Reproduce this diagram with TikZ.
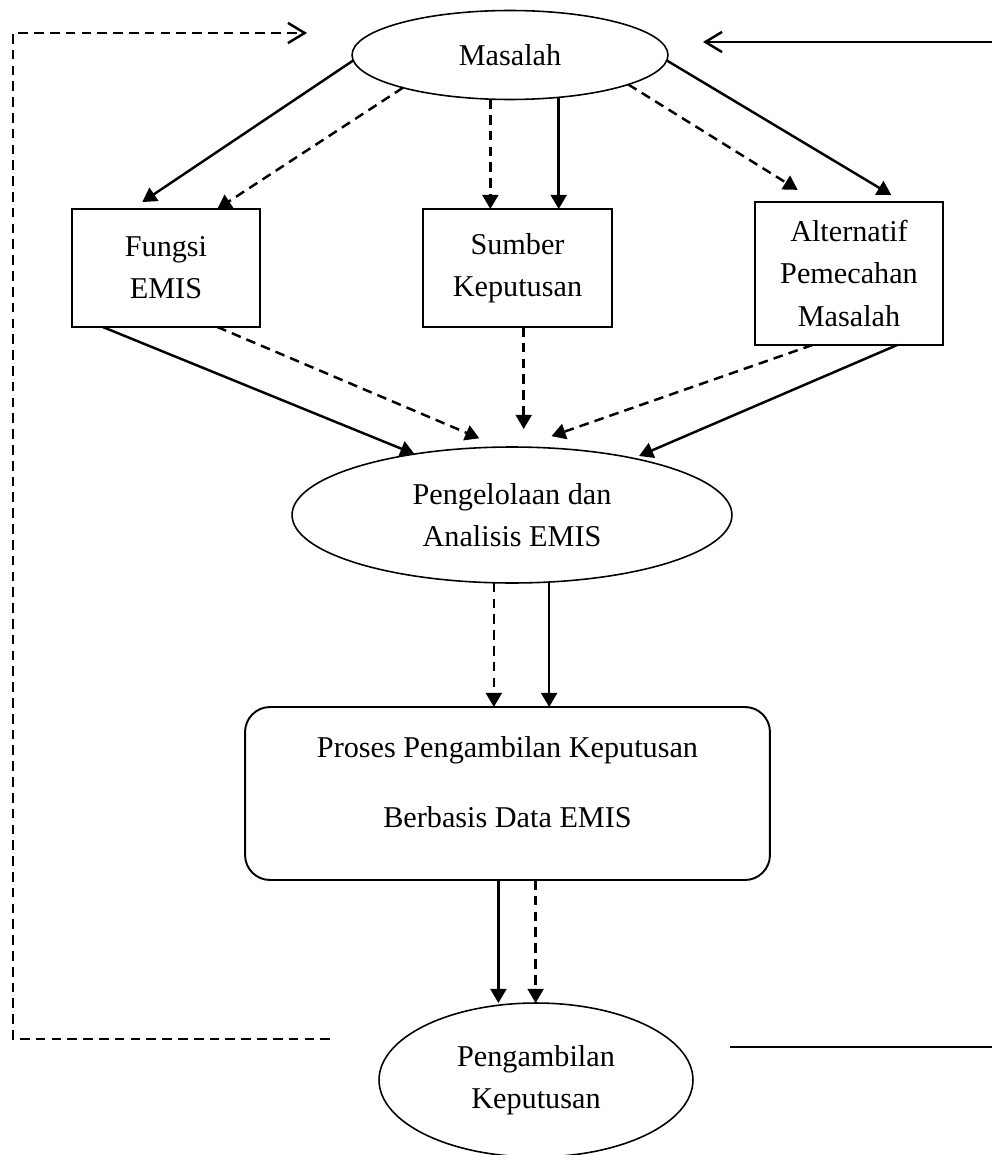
\documentclass[tikz,border=0pt]{standalone}
\usepackage{fontspec}
\setmainfont{Liberation Serif}
\usetikzlibrary{shapes.geometric, arrows.meta}
\tikzset{every node/.style={font=\fontsize{17.2}{24}\selectfont, align=center, outer sep=0pt},
         oval/.style={draw, ellipse, line width=0.9pt, inner sep=0pt},
         box/.style={draw, rectangle, line width=1.1pt, inner sep=0pt},
         rbox/.style={draw, rectangle, rounded corners=0.5cm, line width=1.1pt},
         solidarrow/.style={line width=1.4pt, -{Triangle[length=8pt,width=9pt]}},
         dasharrow/.style={solidarrow, dash pattern=on 5.5pt off 3.5pt},
         openarrow/.style={line width=1.4pt, -{Straight Barb[length=9.5pt,width=11.5pt]}},
        }
\begin{document}
\begin{tikzpicture}[x=0.02cm, y=-0.02cm]
        \useasboundingbox (0,0) rectangle (992,1155);

        \node[oval, minimum width=6.32cm, minimum height=1.78cm](masalah)at(510,55){Masalah};
        \node[box, minimum width=3.76cm, minimum height=2.36cm](fungsi)at(166,268){Fungsi\\EMIS};
        \node[box, minimum width=3.78cm, minimum height=2.36cm](sumber)at(517.5,268){Sumber\\Keputusan};
        \node[box, minimum width=3.76cm, minimum height=2.86cm](alternatif)at(849,273.5){Alternatif\\Pemecahan\\Masalah};
        \node[oval, minimum width=8.8cm, minimum height=2.72cm](kelola)at(512,515){Pengelolaan dan\\Analisis EMIS};
        \node[rbox, minimum width=10.5cm, minimum height=3.46cm](proses)at(507.5,793.5){};
        \node(prosestext)at(507.5,782){Proses Pengambilan Keputusan\\[16pt]Berbasis Data EMIS};
        \node[oval, minimum width=6.28cm, minimum height=3.08cm](ambil)at(536,1080){Pengambilan\\Keputusan};

        \draw[solidarrow, shorten >=0.25cm](masalah.182)--(fungsi.120);
        \draw[dasharrow](masalah.197)--(fungsi.49);
        \draw[dasharrow](masalah.246)--(masalah.246 |- sumber.north);
        \draw[solidarrow](masalah.319)--(masalah.319 |- sumber.north);
        \draw[dasharrow, shorten >=0.46cm](masalah.346)--(alternatif.114);
        \draw[solidarrow, shorten >=0.27cm](masalah.358)--(alternatif.53);

        \draw[solidarrow](fungsi.223)--(kelola.148);
        \draw[dasharrow, shorten >=0.45cm](fungsi.311)--(kelola.100);
        \draw[dasharrow, shorten >=0.36cm](sumber.276)--(sumber.276 |- kelola.north);
        \draw[dasharrow, shorten >=0.66cm](alternatif.243)--(kelola.83);
        \draw[solidarrow, shorten >=0.12cm](alternatif.304)--(kelola.25);

        \draw[dasharrow](kelola.255)--(kelola.255 |- proses.north);
        \draw[solidarrow](kelola.299)--(kelola.299 |- proses.north);
        \draw[solidarrow](proses.264)--(proses.264 |- ambil.north);
        \draw[dasharrow](proses.288)--(proses.288 |- ambil.north);

        \coordinate(loopstart)at(330,1039);
        \coordinate(loopcorner)at(13,1039);
        \coordinate(loopend)at(307,33);
        \draw[openarrow, dash pattern=on 5.5pt off 3.5pt](loopstart)--(loopcorner)|-(loopend);

        \coordinate(backstart)at(992,42);
        \coordinate(backend)at(703,42);
        \draw[openarrow](backstart)--(backend);
        \coordinate(outstart)at(730,1047);
        \coordinate(outend)at(992,1047);
        \draw[line width=1.4pt](outstart)--(outend);
    \end{tikzpicture}
\end{document}
